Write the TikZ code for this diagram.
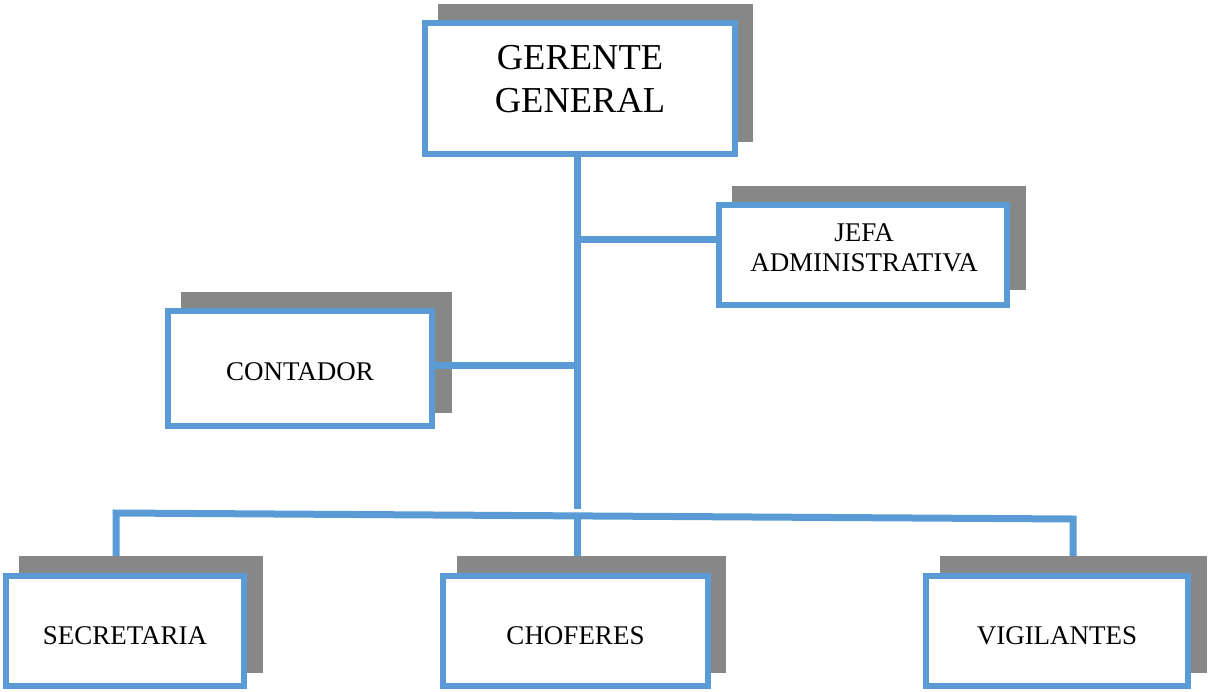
\documentclass[tikz,border=0pt]{standalone}
\usepackage{fontspec}
\setmainfont{Liberation Serif}
\definecolor{boxblue}{HTML}{5B9BD5}
\definecolor{shadowgray}{HTML}{878787}
\tikzset{
  shadowbox/.style={rectangle, fill=shadowgray, draw=none, inner sep=0pt},
  orgbox/.style={rectangle, fill=white, draw=boxblue, line width=6pt, inner sep=0pt},
  bigtext/.style={inner sep=0pt, align=center, font=\fontsize{36.5}{43}\selectfont},
  smalltext/.style={inner sep=0pt, align=center, font=\fontsize{27}{30}\selectfont},
  conn/.style={draw=boxblue, line width=7pt}
}
\begin{document}
\begin{tikzpicture}[x=1pt,y=-1pt]
\useasboundingbox (0,0) rectangle (1209,691);
% shadows
\node[shadowbox, minimum width=315, minimum height=138] (sgg) at (595.5,73) {};
\node[shadowbox, minimum width=294, minimum height=104] (sjefa) at (879,238) {};
\node[shadowbox, minimum width=271, minimum height=121] (scont) at (316.5,352.5) {};
\node[shadowbox, minimum width=244, minimum height=117] (ssec) at (141,614.5) {};
\node[shadowbox, minimum width=269, minimum height=117] (schof) at (591.5,614.5) {};
\node[shadowbox, minimum width=267, minimum height=117] (svig) at (1073.5,614.5) {};
% boxes
\node[orgbox, minimum width=310, minimum height=131] (gg) at (580,88.5) {};
\node[bigtext] (ggt) at (580,79.5) {GERENTE\\GENERAL};
\node[orgbox, minimum width=288, minimum height=100] (jefa) at (863,255) {};
\node[smalltext] (jefat) at (864,248) {JEFA\\ADMINISTRATIVA};
\node[orgbox, minimum width=264, minimum height=115] (cont) at (300,368.5) {};
\node[smalltext] (contt) at (300,372) {CONTADOR};
\node[orgbox, minimum width=238, minimum height=110] (sec) at (125,631) {};
\node[smalltext] (sect) at (125,635.5) {SECRETARIA};
\node[orgbox, minimum width=265, minimum height=110] (chof) at (575.5,631) {};
\node[smalltext] (choft) at (575.5,635.5) {CHOFERES};
\node[orgbox, minimum width=262, minimum height=110] (vig) at (1057,631) {};
\node[smalltext] (vigt) at (1057,635.5) {VIGILANTES};
% connectors
\coordinate (trunk) at (577,0);
\coordinate (tend) at (577,509);
\coordinate (jj) at (577,239);
\coordinate (cc) at (577,365);
\coordinate (bl) at (116,513);
\coordinate (bm) at (577,516);
\coordinate (br) at (1073,519);
\draw[conn] (gg.south -| trunk) ++(0,-6) -- (tend);
\draw[conn] (jj) -- (jefa.west |- jj);
\draw[conn] (cont.east |- cc) -- (cc);
\draw[conn] (ssec.north -| bl) -- (bl) -- (br) -- (svig.north -| br);
\draw[conn] (bm) -- (schof.north -| bm);
\end{tikzpicture}
\end{document}
